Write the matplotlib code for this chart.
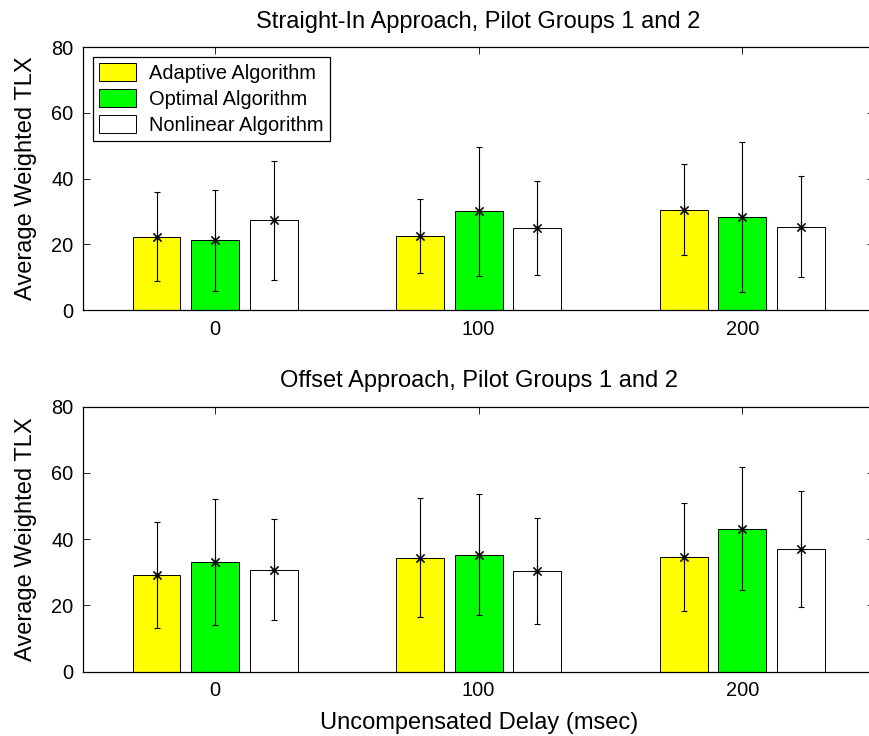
import matplotlib
matplotlib.use("Agg")
import matplotlib.pyplot as plt
import numpy as np

plt.rcParams['font.family'] = ['Liberation Sans', 'DejaVu Sans']

categories = ['0', '100', '200']
series = ['Adaptive Algorithm', 'Optimal Algorithm', 'Nonlinear Algorithm']
colors = ['#ffff00', '#00ff00', '#ffffff']

straight_adaptive = [22.3, 22.6, 30.5]
straight_optimal = [21.2, 30.0, 28.3]
straight_nonlinear = [27.3, 25.0, 25.4]
straight_adaptive_err = [13.6, 11.3, 13.9]
straight_optimal_err = [15.3, 19.5, 22.8]
straight_nonlinear_err = [18.1, 14.4, 15.3]

offset_adaptive = [29.3, 34.4, 34.7]
offset_optimal = [33.1, 35.3, 43.2]
offset_nonlinear = [30.8, 30.4, 37.0]
offset_adaptive_err = [16.0, 18.0, 16.3]
offset_optimal_err = [18.9, 18.2, 18.5]
offset_nonlinear_err = [15.2, 16.0, 17.6]

yticks = [0, 20, 40, 60, 80]

FS = 14.4
LFS = 17
W, H = 870, 736
fig = plt.figure(figsize=(W / 100, H / 100), dpi=100)

def fx(px):
    return px / W

def fy(py):
    return 1 - py / H

ax1 = fig.add_axes([fx(83.3), fy(310), fx(874 - 83.3), (310 - 47.3) / H])
ax2 = fig.add_axes([fx(83.3), fy(671.7), fx(874 - 83.3), (671.7 - 406.7) / H])

x = np.arange(1, len(categories) + 1)
offsets = [-0.2222, 0.0, 0.2222]
width = 0.1818

def draw(ax, means, errs, title, legend=False, xlabel=None):
    handles = []
    for i, (m, e) in enumerate(zip(means, errs)):
        b = ax.bar(x + offsets[i], m, width, color=colors[i], edgecolor='black',
                   linewidth=0.7, label=series[i], zorder=2)
        handles.append(b)
        ax.errorbar(x + offsets[i], m, yerr=e, fmt='none', ecolor='black',
                    elinewidth=0.8, capsize=2.0, capthick=0.8, zorder=3)
        ax.plot(x + offsets[i], m, linestyle='none', marker=(8, 2, 0),
                markersize=8, color='black', markeredgewidth=0.8, zorder=4)
    ax.set_xlim(0.5, 3.5)
    ax.set_ylim(0, 80)
    ax.set_yticks(yticks)
    ax.set_xticks(x)
    ax.set_xticklabels(categories)
    ax.tick_params(direction='in', length=5, width=0.6, labelsize=FS, pad=7,
                   top=True, right=True, color='black')
    for s in ax.spines.values():
        s.set_linewidth(0.9)
        s.set_color('black')
    ax.set_title(title, fontsize=LFS, pad=14)
    ax.set_ylabel('Average Weighted TLX', fontsize=LFS, labelpad=10)
    if xlabel:
        ax.set_xlabel(xlabel, fontsize=LFS, labelpad=8)
    if legend:
        leg = ax.legend(handles=handles, loc='upper left', fontsize=FS,
                        frameon=True, fancybox=False, framealpha=1,
                        edgecolor='black', handlelength=1.83, handleheight=1.0,
                        labelspacing=0.3, handletextpad=0.65, borderpad=0.3,
                        borderaxespad=0.5)
        leg.get_frame().set_linewidth(0.9)

draw(ax1,
     [straight_adaptive, straight_optimal, straight_nonlinear],
     [straight_adaptive_err, straight_optimal_err, straight_nonlinear_err],
     'Straight-In Approach, Pilot Groups 1 and 2', legend=True)
draw(ax2,
     [offset_adaptive, offset_optimal, offset_nonlinear],
     [offset_adaptive_err, offset_optimal_err, offset_nonlinear_err],
     'Offset Approach, Pilot Groups 1 and 2',
     xlabel='Uncompensated Delay (msec)')

fig.savefig('out.png', dpi=100)
